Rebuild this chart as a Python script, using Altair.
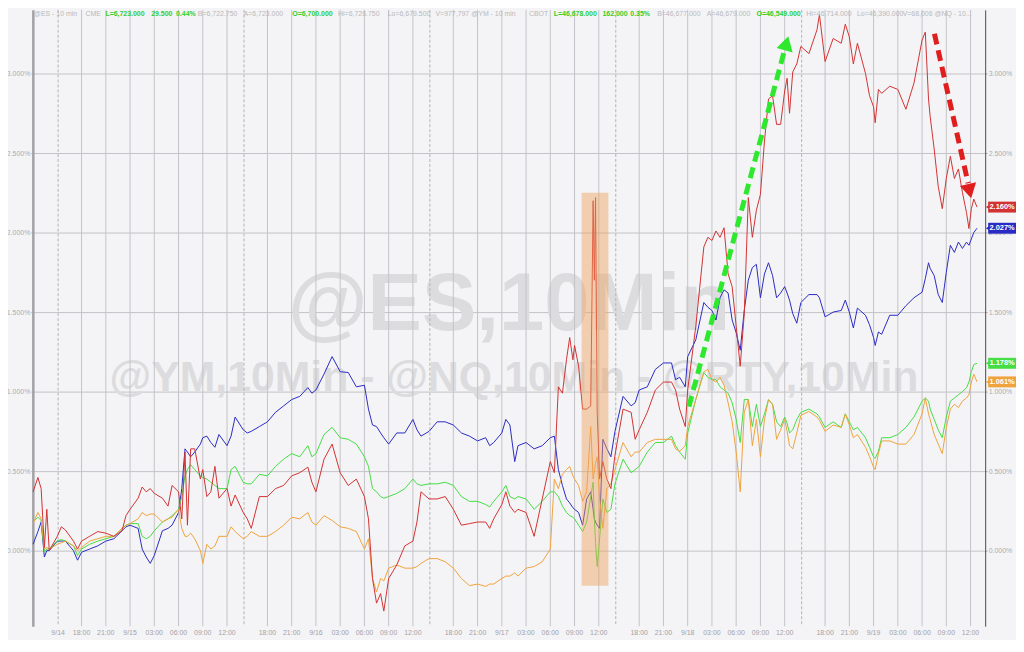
import json
import altair as alt
import pandas as pd

# ---------------- data (trading hours since 9/14 18:00, % change) ----------------
hours = [
    -6.0, -5.4, -5.0, -4.6, -4.3, -4.0, -3.0, -2.5, -2.0, -1.0, -0.5, 0.0, 1.0, 2.0, 3.0, 4.0, 5.0, 5.5, 6.0, 7.0, 7.5,
    8.0, 8.5, 9.0, 10.0, 10.7, 11.2, 12.0, 12.4, 12.8, 13.1, 13.5, 14.0, 14.7, 15.0, 15.5, 16.0, 16.5, 17.0, 18.0, 18.5, 19.0,
    20.0, 20.5, 21.0, 22.0, 23.0, 24.0, 25.0, 26.0, 27.0, 28.0, 28.5, 29.0, 30.0, 31.0, 32.0, 33.0, 34.0, 35.0, 35.5,
    36.0, 36.5, 37.0, 37.4, 38.0, 39.0, 40.0, 41.0, 41.5, 42.0,
    43.0, 44.0, 45.0, 46.0, 47.0, 48.0, 49.0, 50.0, 50.5, 51.0, 52.0, 52.5, 53.0, 53.6, 54.0, 55.0,
    56.0, 57.0, 58.0, 58.5, 59.0, 59.5, 60.0, 60.4, 60.8, 61.0, 61.5, 62.0, 62.5, 63.0, 63.3, 63.45,
    63.6, 63.8, 64.1, 64.5, 65.0, 65.5,
    66.0, 67.0, 68.0, 68.5, 69.0, 70.0, 71.0, 72.0, 73.0, 73.5, 74.0, 74.7, 75.0, 76.0, 77.0, 77.5,
    78.0, 78.5, 79.0, 79.5, 80.0, 80.5, 81.0, 81.5, 82.0, 82.5, 83.0, 83.5, 84.0, 84.5, 85.0, 85.5,
    86.0, 86.5, 87.0, 87.3, 87.6, 88.0, 88.5,
    89.0, 90.0, 91.0, 91.3, 92.0, 93.0, 94.0, 94.5, 95.0, 95.5, 96.0, 97.0, 97.5, 98.0, 98.2, 98.6,
    99.0, 100.0, 101.0, 102.0, 103.0, 104.0, 104.4, 104.8, 105.0, 105.5, 106.0, 106.5, 107.0, 107.5, 108.0, 108.5,
    109.0, 109.5, 109.8, 110.1, 110.4, 110.8,
]

red = [
    0.37, 0.46, 0.39, 0.02, 0.26, 0.00, 0.09, 0.15, 0.13, 0.06, 0.01, 0.06, 0.09, 0.12, 0.11, 0.09, 0.125, 0.22, 0.26, 0.33, 0.40,
    0.37, 0.39, 0.36, 0.33, 0.28, 0.41, 0.37, 0.20, 0.62, 0.16, 0.64, 0.64, 0.45, 0.51, 0.34, 0.37, 0.53, 0.33, 0.39, 0.28, 0.35,
    0.24, 0.20, 0.14, 0.34, 0.34, 0.39, 0.41, 0.47, 0.49, 0.525, 0.43, 0.37, 0.575, 0.67, 0.49, 0.41, 0.45, 0.34, 0.20,
    -0.175, -0.33, -0.27, -0.38, -0.175, -0.09, 0.03, 0.06, 0.18, 0.37,
    0.325, 0.325, 0.34, 0.26, 0.16, 0.17, 0.18, 0.18, 0.14, 0.20, 0.29, 0.37, 0.28, 0.24, 0.26, 0.24,
    0.09, 0.325, 0.56, 0.49, 1.03, 0.99, 1.20, 1.34, 1.20, 1.29, 1.16, 0.89, 0.89, 0.91, 2.20, 1.70,
    2.22, 0.87, 0.45, 0.56, 0.45, 0.39,
    0.60, 0.89, 0.87, 0.70, 0.76, 0.87, 1.01, 1.06, 1.06, 1.01, 0.89, 0.78, 1.01, 1.41, 1.91, 1.97,
    1.95, 2.01, 1.97, 2.03, 1.74, 1.66, 1.41, 1.16, 1.49, 2.22, 1.97, 2.14, 2.24, 2.575, 2.84, 2.86,
    2.68, 2.68, 2.89, 2.97, 2.75, 3.01, 3.06,
    3.17, 3.125, 3.275, 3.37, 3.075, 3.22, 3.19, 3.31, 3.23, 3.06, 3.19, 3.00, 2.86, 2.79, 2.69, 2.90,
    2.875, 2.92, 2.90, 2.775, 2.94, 3.21, 3.26, 2.84, 2.73, 2.525, 2.29, 2.15, 2.34, 2.48, 2.34, 2.40,
    2.25, 2.125, 2.025, 2.15, 2.21, 2.16,
]

blue = [
    0.04, 0.12, 0.18, -0.04, 0.00, 0.00, 0.06, 0.06, 0.06, 0.00, -0.06, -0.01, 0.01, 0.03, 0.06, 0.075, 0.125, 0.15, 0.16, 0.14, 0.01,
    -0.04, -0.08, -0.03, 0.125, 0.14, 0.16, 0.24, 0.39, 0.64, 0.62, 0.59, 0.62, 0.67, 0.71, 0.72, 0.68, 0.65, 0.73, 0.66, 0.72, 0.84,
    0.76, 0.74, 0.75, 0.78, 0.81, 0.87, 0.91, 0.95, 0.97, 1.025, 0.99, 1.01, 1.11, 1.22, 1.125, 1.12, 1.03, 1.04, 0.89,
    0.79, 0.78, 0.74, 0.71, 0.67, 0.74, 0.74, 0.825, 0.76, 0.72,
    0.75, 0.81, 0.81, 0.79, 0.74, 0.72, 0.69, 0.71, 0.66, 0.68, 0.74, 0.825, 0.79, 0.56, 0.66, 0.68,
    0.64, 0.66, 0.71, 0.72, 0.51, 0.41, 0.325, 0.30, 0.27, 0.26, 0.24, 0.16, 0.325, 0.37, 0.26, 0.20,
    0.18, 0.16, 0.14, 0.70, 0.64, 0.59,
    0.75, 0.97, 0.91, 0.93, 1.01, 1.03, 1.14, 1.18, 1.18, 1.075, 1.09, 1.03, 1.22, 1.325, 1.56, 1.53,
    1.51, 1.45, 1.59, 1.64, 1.62, 1.45, 1.37, 1.26, 1.51, 1.70, 1.78, 1.80, 1.59, 1.74, 1.81, 1.73,
    1.59, 1.62, 1.66, 1.62, 1.575, 1.49, 1.43,
    1.56, 1.61, 1.61, 1.59, 1.47, 1.50, 1.51, 1.575, 1.50, 1.40, 1.525, 1.48, 1.42, 1.34, 1.29, 1.375,
    1.36, 1.48, 1.48, 1.54, 1.59, 1.625, 1.71, 1.81, 1.775, 1.73, 1.61, 1.56, 1.75, 1.92, 1.875, 1.94,
    1.90, 1.94, 1.92, 1.96, 2.00, 2.027,
]

green = [
    0.18, 0.21, 0.19, -0.01, 0.01, 0.01, 0.06, 0.07, 0.06, 0.03, -0.03, 0.01, 0.04, 0.06, 0.075, 0.09, 0.14, 0.16, 0.17, 0.17, 0.09,
    0.075, 0.09, 0.125, 0.18, 0.20, 0.22, 0.26, 0.34, 0.47, 0.51, 0.54, 0.51, 0.47, 0.46, 0.45, 0.43, 0.41, 0.39, 0.39, 0.51, 0.53,
    0.43, 0.42, 0.42, 0.48, 0.47, 0.53, 0.575, 0.61, 0.59, 0.66, 0.59, 0.61, 0.73, 0.775, 0.71, 0.70, 0.67, 0.59, 0.53,
    0.39, 0.37, 0.34, 0.33, 0.34, 0.36, 0.39, 0.45, 0.42, 0.41,
    0.42, 0.42, 0.43, 0.41, 0.34, 0.31, 0.31, 0.29, 0.275, 0.31, 0.37, 0.41, 0.34, 0.325, 0.34, 0.325,
    0.26, 0.31, 0.37, 0.37, 0.34, 0.28, 0.24, 0.22, 0.21, 0.20, 0.16, 0.12, 0.18, 0.34, 0.43, 0.20,
    0.05, -0.10, 0.075, 0.325, 0.24, 0.26,
    0.42, 0.575, 0.49, 0.51, 0.53, 0.62, 0.68, 0.68, 0.72, 0.66, 0.62, 0.575, 0.74, 0.95, 1.12, 1.09,
    1.075, 1.075, 1.03, 1.01, 0.99, 0.93, 0.825, 0.68, 0.95, 0.95, 0.78, 0.92, 0.78, 0.86, 0.95, 0.92,
    0.81, 0.78, 0.84, 0.80, 0.74, 0.76, 0.825,
    0.87, 0.89, 0.86, 0.84, 0.775, 0.81, 0.775, 0.86, 0.81, 0.76, 0.775, 0.71, 0.65, 0.59, 0.58, 0.625,
    0.71, 0.71, 0.73, 0.775, 0.84, 0.94, 0.96, 0.94, 0.89, 0.825, 0.76, 0.71, 0.84, 0.94, 0.96, 0.98,
    1.00, 1.025, 1.06, 1.125, 1.17, 1.178,
]

orange = [
    0.17, 0.24, 0.20, 0.01, 0.02, 0.01, 0.04, 0.05, 0.06, 0.03, 0.00, 0.02, 0.06, 0.075, 0.09, 0.09, 0.14, 0.16, 0.17, 0.20, 0.24,
    0.22, 0.23, 0.23, 0.18, 0.20, 0.21, 0.26, 0.14, 0.09, 0.09, 0.11, 0.075, 0.00, -0.08, 0.04, 0.01, 0.03, 0.09, 0.09, 0.15, 0.12,
    0.075, 0.09, 0.12, 0.09, 0.09, 0.12, 0.16, 0.21, 0.20, 0.24, 0.18, 0.16, 0.22, 0.19, 0.15, 0.14, 0.12, 0.01, 0.075,
    -0.175, -0.26, -0.175, -0.19, -0.11, -0.09, -0.11, -0.11, -0.10, -0.08,
    -0.05, -0.05, -0.07, -0.11, -0.175, -0.22, -0.21, -0.225, -0.21, -0.21, -0.175, -0.16, -0.16, -0.14, -0.16, -0.11,
    -0.10, -0.07, 0.01, 0.45, 0.39, 0.48, 0.51, 0.53, 0.47, 0.45, 0.41, 0.31, 0.37, 0.78, 0.45, 0.50,
    0.55, 0.59, 0.325, 0.14, 0.39, 0.42,
    0.51, 0.68, 0.59, 0.62, 0.62, 0.68, 0.70, 0.70, 0.70, 0.64, 0.625, 0.66, 0.78, 0.95, 1.125, 1.14,
    1.075, 1.06, 1.09, 1.04, 0.93, 0.81, 0.62, 0.37, 0.87, 0.95, 0.66, 0.825, 0.59, 0.825, 0.95, 0.92,
    0.70, 0.76, 0.825, 0.75, 0.66, 0.64, 0.74,
    0.85, 0.875, 0.84, 0.82, 0.75, 0.79, 0.775, 0.86, 0.79, 0.71, 0.73, 0.65, 0.59, 0.525, 0.51, 0.61,
    0.69, 0.69, 0.67, 0.67, 0.73, 0.86, 0.96, 0.86, 0.825, 0.73, 0.67, 0.61, 0.775, 0.89, 0.92, 0.90,
    0.94, 0.96, 0.98, 1.06, 1.11, 1.061,
]

assert len(hours) == len(red) == len(blue) == len(green) == len(orange)

series_names = ["NQ", "ES", "YM", "RTY"]
series_colors = ["#2a2ac4", "#44dd44", "#f0a23c", "#d23232"]
series_values = [blue, green, orange, red]
last_labels = ["2.027%", "1.178%", "1.061%", "2.160%"]

tick_hours = [-2.9, 0, 3, 6, 9, 12, 15, 18, 23, 26, 29, 32, 35, 38, 41, 46, 49, 52, 55, 58, 61, 64,
              69, 72, 75, 78, 81, 84, 87, 92, 95, 98, 101, 104, 107, 110]
tick_labels = ["9/14", "18:00", "21:00", "9/15", "03:00", "06:00", "09:00", "12:00",
               "18:00", "21:00", "9/16", "03:00", "06:00", "09:00", "12:00",
               "18:00", "21:00", "9/17", "03:00", "06:00", "09:00", "12:00",
               "18:00", "21:00", "9/18", "03:00", "06:00", "09:00", "12:00",
               "18:00", "21:00", "9/19", "03:00", "06:00", "09:00", "12:00"]
session_hours = [-2.9, 20.1, 43.1, 66.1, 89.1]
y_values = [0, 0.5, 1.0, 1.5, 2.0, 2.5, 3.0]

# highlight band (Fed window) and arrows, in data units
band = pd.DataFrame({"h": [61.87], "h2": [65.19], "v": [-0.22], "v2": [2.25]})
green_arrow = pd.DataFrame({"h": [75.15], "v": [0.906], "h2": [87.0], "v2": [3.15]})
green_head = pd.DataFrame({"h": [87.22], "v": [3.19]})
red_arrow = pd.DataFrame({"h": [105.53], "v": [3.25], "h2": [109.7], "v2": [2.31]})
red_head = pd.DataFrame({"h": [109.88], "v": [2.26]})

header_items = [
    ("@ES - 10 min", False, 34), ("CME", False, 86), ("L=6,723.000", True, 106), ("29.500", True, 152),
    ("0.44%", True, 177), ("B=6,722.750", False, 199), ("A=6,723.000", False, 245), ("O=6,700.000", True, 294),
    ("Hi=6,726.750", False, 340), ("Lo=6,679.500", False, 390), ("V=977,797", False, 438),
    ("@YM - 10 min", False, 474), ("CBOT", False, 532), ("L=46,678.000", True, 557), ("162.000", True, 606),
    ("0.35%", True, 634), ("B=46,677.000", False, 661), ("A=46,679.000", False, 711), ("O=46,549.000", True, 761),
    ("Hi=46,714.000", False, 811), ("Lo=46,390.000", False, 862), ("V=68,006", False, 908), ("@NQ - 10...", False, 940),
]

# ---------------- chart ----------------
FONT = "Liberation Sans"
W, H = 958, 620
xs = alt.Scale(domain=[-6.027, 111.81], nice=False, zero=False)
ys = alt.Scale(domain=[-0.475, 3.4], nice=False, zero=False)

rows = []
for name, vals in zip(series_names, series_values):
    for h, v in zip(hours, vals):
        rows.append({"h": h, "v": v, "s": name})
lines_df = pd.DataFrame(rows)

last_df = pd.DataFrame({
    "s": series_names,
    "v": [vals[-1] for vals in series_values],
    "lab": last_labels,
})
ticks_df = pd.DataFrame({"h": tick_hours, "lab": tick_labels})

y_expr = "format(datum.value, '.3f') + '%'"
color_scale = alt.Scale(domain=series_names, range=series_colors)

one = pd.DataFrame({"t": [0]})

wm1 = alt.Chart(one).mark_text(
    text="@ES,10Min", font=FONT, fontSize=82, fontWeight="bold", color="#dcdcdf",
    align="center", baseline="alphabetic").encode(x=alt.value(479), y=alt.value(322))
wm2 = alt.Chart(one).mark_text(
    text="@YM,10Min - @NQ,10Min - @RTY,10Min", font=FONT, fontSize=43, fontWeight="bold",
    color="#dcdcdf", align="center", baseline="alphabetic").encode(x=alt.value(484), y=alt.value(383))

grid_solid = alt.Chart(pd.DataFrame({"h": tick_hours[1:]})).mark_rule(
    color="#c4c4c8", strokeWidth=1).encode(
    x=alt.X("h:Q", scale=xs, axis=alt.Axis(
        values=tick_hours, labels=False, grid=False, title=None,
        domainColor="#7a7a7a", tickColor="#909090", tickSize=3)))

x_labels = alt.Chart(ticks_df).mark_text(
    font=FONT, fontSize=7, color="#a2a2a6", align="center", baseline="top").encode(
    x=alt.X("h:Q", scale=xs, axis=None), y=alt.value(H + 3), text="lab:N")

grid_dash = alt.Chart(pd.DataFrame({"h": session_hours})).mark_rule(
    color="#b2b2b6", strokeWidth=1, strokeDash=[3, 2]).encode(
    x=alt.X("h:Q", scale=xs, axis=None))

lines = alt.Chart(lines_df).mark_line(strokeWidth=1).encode(
    x=alt.X("h:Q", scale=xs, axis=None),
    y=alt.Y("v:Q", scale=ys, axis=alt.Axis(
        orient="left", values=y_values, labelExpr=y_expr, grid=True, gridColor="#c4c4c8",
        title=None, domainColor="#a2a2a6", domainWidth=2.5, tickColor="#b0b0b4", tickSize=2,
        labelColor="#ababaf", labelFontSize=7, labelFont=FONT, labelPadding=1, labelOverlap=False)),
    color=alt.Color("s:N", scale=color_scale, legend=None),
    detail="s:N",
)

band_layer = alt.Chart(band).mark_rect(color="#f0a05a", opacity=0.45).encode(
    x=alt.X("h:Q", scale=xs, axis=None), x2="h2:Q",
    y=alt.Y("v:Q", scale=ys, axis=None), y2="v2:Q")

def arrow(df, head, color, angle):
    shaft = alt.Chart(df).mark_rule(color=color, strokeWidth=5, strokeDash=[11, 6]).encode(
        x=alt.X("h:Q", scale=xs, axis=None), y=alt.Y("v:Q", scale=ys, axis=None),
        x2="h2:Q", y2="v2:Q")
    tip = alt.Chart(head).mark_point(shape="triangle-up", filled=True, size=280, angle=angle,
                                     color=color, opacity=1).encode(
        x=alt.X("h:Q", scale=xs, axis=None), y=alt.Y("v:Q", scale=ys, axis=None))
    return [shaft, tip]

green_arrow_layers = arrow(green_arrow, green_head, "#2ee82e", 15)
red_arrow_layers = arrow(red_arrow, red_head, "#e01e1e", 167)

tags = alt.Chart(last_df).mark_tick(orient="horizontal", size=28, thickness=11, opacity=1).encode(
    x=alt.value(975),
    y=alt.Y("v:Q", scale=ys, axis=alt.Axis(
        orient="right", values=y_values, labelExpr=y_expr, grid=False, title=None,
        domainColor="#4a4a4a", domainWidth=1, tickColor="#b0b0b4", tickSize=2,
        labelColor="#ababaf", labelFontSize=7, labelFont=FONT, labelPadding=1, labelOverlap=False)),
    color=alt.Color("s:N", scale=color_scale, legend=None))
notch = alt.Chart(last_df).mark_point(shape="triangle-left", filled=True, size=30, opacity=1).encode(
    x=alt.value(961), y=alt.Y("v:Q", scale=ys, axis=None),
    color=alt.Color("s:N", scale=color_scale, legend=None))
tag_text = alt.Chart(last_df).mark_text(font=FONT, fontSize=7.5, fontWeight="bold", color="white",
                                        align="center", baseline="middle").encode(
    x=alt.value(975), y=alt.Y("v:Q", scale=ys, axis=None), text="lab:N")

header_layers = []
for txt, hot, px in header_items:
    header_layers.append(alt.Chart(one).mark_text(
        text=txt, font=FONT, fontSize=7, fontWeight="bold" if hot else "normal",
        color="#2fcf2f" if hot else "#b8b8bc", align="left", baseline="middle").encode(
        x=alt.value(px - 33), y=alt.value(4)))

chart = alt.layer(
    wm1, wm2, grid_solid, grid_dash, lines, band_layer,
    *green_arrow_layers, *red_arrow_layers, tags, notch, tag_text, x_labels, *header_layers,
).resolve_axis(y="independent").properties(
    width=W, height=H,
    padding={"left": 25, "top": 0, "right": 31, "bottom": 12},
    autosize=alt.AutoSizeParams(type="none"),
    background="#f4f4f6",
).configure_view(stroke=None, fill="#f4f4f6")

chart.save("out.html", embed_options={"renderer": "svg", "actions": False})
